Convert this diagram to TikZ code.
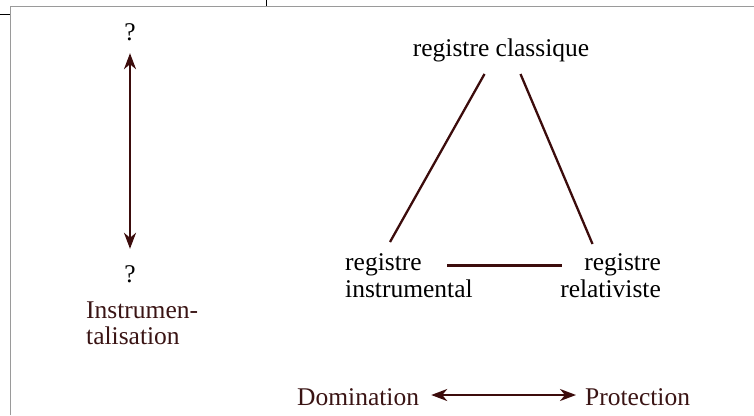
\documentclass[tikz,border=0pt]{standalone}
\usepackage{fontspec}
\setmainfont{Liberation Serif}
\usetikzlibrary{arrows.meta,calc}
\definecolor{maroon}{HTML}{3C0C0C}
\definecolor{mtext}{HTML}{3A1414}
\definecolor{framegray}{HTML}{9A9A9A}
\tikzset{
  txt/.style={inner sep=0pt, font=\fontsize{25.5}{27}\selectfont, text height=18pt, text depth=6pt},
  mtxt/.style={inner sep=0pt, font=\fontsize{25.5}{27}\selectfont},
  conn/.style={draw=maroon, line width=2.3pt},
  biarrow/.style={conn, {Stealth[length=16pt,width=12pt,inset=5pt]}-{Stealth[length=16pt,width=12pt,inset=5pt]}},
}
\begin{document}
\begin{tikzpicture}[x=1pt,y=-1pt]
\useasboundingbox (0,0) rectangle (754,415);
% frame
\draw[framegray, line width=1.5pt] (10.5,415) -- (10.5,6.5) -- (754,6.5);
\draw[black, line width=1pt] (0,14) -- (10,14);
\draw[black, line width=1pt] (266,0) -- (266,6);
% left column
\node[txt, anchor=base] (q1) at (130,40) {?};
\node[txt, anchor=base] (q2) at (130,282) {?};
\node[mtxt, anchor=base west, align=left, text=mtext, font=\fontsize{25.5}{26}\selectfont] (instr) at (86,344) {Instrumen-\\talisation};
\draw[biarrow, shorten <=7pt, shorten >=15pt] (q1.south) -- (q2.north);
% triangle
\node[txt, anchor=base] (classique) at (501,56) {registre classique};
\node[mtxt, anchor=base west, align=left] (instrumental) at (345,297) {registre\\instrumental};
\node[mtxt, anchor=base east, align=right] (relativiste) at (661,297) {registre\\relativiste};
\coordinate (cl) at (484.5,74);
\coordinate (cr) at (520.5,74);
\coordinate (il) at (390,242);
\coordinate (rl) at (592.5,244);
\coordinate (hl) at (447,265.5);
\coordinate (hr) at (562,265.5);
\draw[conn] (cl) -- (il);
\draw[conn] (cr) -- (rl);
\draw[conn] (hl) -- (hr);
% bottom
\node[txt, anchor=base west, text=mtext] (dom) at (297,405) {Domination};
\node[txt, anchor=base west, text=mtext] (prot) at (585,405) {Protection};
\draw[biarrow] ($(dom.east)+(12,-4)$) -- ($(prot.west)+(-9,-4)$);
\end{tikzpicture}
\end{document}
